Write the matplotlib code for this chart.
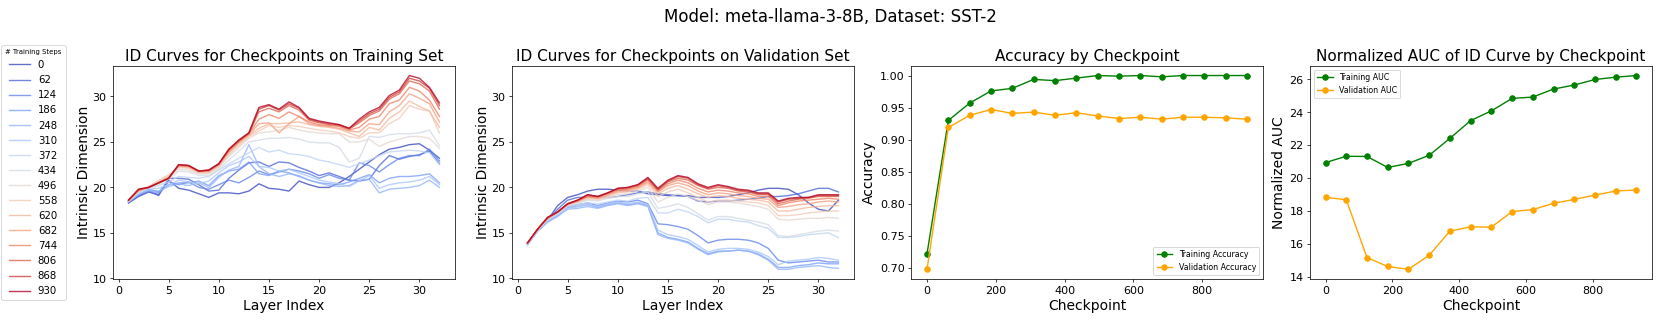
import numpy as np
import matplotlib
matplotlib.use("Agg")
import matplotlib.pyplot as plt

checkpoints = [0, 62, 124, 186, 248, 310, 372, 434, 496, 558, 620, 682, 744, 806, 868, 930]
layers = list(range(1, 33))

# ID curves on the training set, one list per checkpoint
train_id = [
    [18.3, 19.0, 19.5, 19.2, 20.8, 19.9, 19.7, 19.3, 18.9, 19.4, 19.4, 19.3, 19.6, 20.4, 19.9, 19.8, 19.6, 20.7, 20.3, 20.0, 20.0, 20.5, 21.2, 22.0, 22.8, 23.6, 24.2, 24.4, 24.7, 24.8, 24.1, 23.2],
    [18.3, 19.1, 19.6, 19.1, 21.0, 21.0, 20.9, 20.3, 19.6, 19.7, 21.0, 21.9, 22.7, 22.8, 22.3, 22.8, 22.7, 22.2, 21.8, 21.3, 21.6, 21.2, 20.8, 20.7, 20.9, 22.4, 23.5, 23.1, 23.4, 23.6, 24.0, 22.6],
    [18.4, 19.2, 19.8, 19.5, 20.6, 20.3, 20.6, 20.0, 19.8, 20.3, 20.8, 20.5, 21.1, 21.8, 21.4, 21.7, 22.0, 21.8, 21.5, 21.0, 21.4, 21.0, 20.8, 22.7, 22.4, 21.7, 22.5, 23.2, 23.5, 23.5, 24.2, 22.9],
    [18.4, 19.3, 19.6, 19.4, 20.3, 20.5, 20.5, 20.7, 20.2, 21.3, 21.8, 22.0, 22.8, 21.5, 21.3, 21.8, 21.6, 21.2, 20.8, 20.5, 20.4, 20.3, 20.6, 21.0, 21.4, 20.5, 21.0, 21.2, 21.2, 21.3, 21.5, 20.5],
    [18.4, 19.2, 19.7, 19.6, 20.1, 20.4, 20.2, 20.5, 20.0, 21.1, 21.9, 22.3, 24.7, 22.3, 21.5, 21.2, 21.5, 21.3, 20.8, 20.5, 20.2, 20.1, 20.2, 20.8, 20.9, 19.4, 19.8, 19.9, 20.0, 20.2, 20.8, 20.0],
    [18.5, 19.3, 19.8, 19.9, 20.3, 20.8, 20.6, 20.4, 20.7, 21.6, 22.4, 22.8, 23.4, 22.3, 22.2, 21.8, 22.0, 21.6, 21.2, 20.8, 20.6, 20.4, 20.1, 20.7, 21.3, 19.9, 20.3, 20.5, 20.6, 20.8, 21.2, 20.3],
    [18.5, 19.4, 19.9, 20.2, 20.6, 21.2, 21.1, 21.0, 21.2, 21.9, 22.6, 23.2, 23.8, 24.4, 23.9, 24.1, 23.7, 23.6, 23.4, 23.0, 22.8, 22.5, 22.2, 22.6, 23.0, 23.5, 23.9, 24.0, 24.1, 24.0, 23.8, 22.5],
    [18.5, 19.5, 20.0, 20.3, 20.9, 21.8, 21.7, 21.3, 21.3, 22.0, 23.0, 24.0, 25.0, 25.2, 25.4, 25.4, 25.5, 25.3, 25.0, 24.9, 24.9, 24.4, 22.8, 23.2, 25.6, 25.5, 25.8, 25.9, 25.9, 26.0, 26.3, 24.6],
    [18.5, 19.6, 20.1, 20.6, 21.2, 22.0, 21.9, 21.5, 21.5, 22.2, 23.4, 24.4, 25.4, 26.0, 26.1, 26.3, 26.6, 26.3, 26.1, 26.0, 25.9, 25.9, 25.0, 25.0, 25.3, 24.5, 25.0, 25.3, 25.6, 25.6, 25.4, 24.3],
    [18.5, 19.6, 20.1, 20.8, 21.4, 22.2, 22.1, 21.6, 21.6, 22.3, 23.6, 24.6, 25.6, 26.2, 26.8, 26.6, 26.8, 26.7, 26.5, 26.3, 26.2, 26.0, 25.6, 25.4, 26.0, 26.0, 27.0, 27.6, 29.0, 28.6, 28.4, 26.0],
    [18.5, 19.6, 20.0, 20.6, 21.2, 22.3, 22.2, 21.7, 21.7, 22.4, 23.8, 24.8, 25.7, 26.5, 27.0, 27.0, 27.1, 27.2, 26.9, 26.7, 26.6, 26.4, 26.0, 25.6, 26.6, 26.3, 27.6, 28.3, 29.5, 28.9, 28.4, 26.6],
    [18.6, 19.7, 20.0, 20.5, 21.1, 22.4, 22.3, 21.7, 21.8, 22.5, 23.9, 25.0, 25.8, 27.0, 27.1, 26.0, 27.0, 27.8, 27.0, 26.8, 26.7, 26.5, 26.2, 26.1, 27.0, 26.9, 28.3, 29.0, 30.3, 29.8, 29.2, 27.2],
    [18.6, 19.7, 20.0, 20.5, 21.0, 22.4, 22.3, 21.8, 21.8, 22.5, 24.0, 25.0, 25.9, 27.5, 28.0, 27.6, 28.3, 27.8, 27.2, 26.9, 26.8, 26.7, 26.3, 26.6, 27.5, 27.8, 29.2, 29.6, 31.0, 30.6, 29.6, 27.8],
    [18.6, 19.7, 20.0, 20.5, 21.0, 22.5, 22.4, 21.8, 21.9, 22.6, 24.1, 25.1, 25.9, 28.3, 28.7, 28.3, 29.0, 28.5, 27.4, 27.1, 26.9, 26.8, 26.4, 27.1, 27.9, 28.4, 29.7, 30.3, 31.7, 31.4, 30.6, 28.6],
    [18.6, 19.8, 20.0, 20.5, 21.0, 22.5, 22.4, 21.8, 21.9, 22.6, 24.2, 25.2, 26.0, 28.6, 29.0, 28.5, 29.2, 28.7, 27.5, 27.2, 27.0, 26.9, 26.5, 27.3, 28.1, 28.6, 29.9, 30.5, 32.0, 31.7, 30.9, 29.0],
    [18.6, 19.8, 20.0, 20.5, 21.0, 22.5, 22.4, 21.8, 21.9, 22.6, 24.2, 25.2, 26.0, 28.8, 29.1, 28.6, 29.4, 28.8, 27.6, 27.3, 27.1, 26.9, 26.5, 27.5, 28.3, 28.8, 30.1, 30.7, 32.3, 32.0, 31.0, 29.3],
]

# ID curves on the validation set
val_id = [
    [13.8, 15.3, 16.4, 18.0, 18.9, 19.2, 19.6, 19.8, 19.8, 19.7, 19.6, 19.6, 19.3, 19.2, 19.1, 19.1, 19.1, 18.9, 18.9, 18.9, 19.0, 19.2, 19.4, 19.7, 19.9, 19.9, 19.8, 19.2, 18.3, 17.6, 17.4, 18.6],
    [13.8, 15.3, 16.4, 17.6, 18.6, 18.9, 18.9, 19.0, 18.9, 19.0, 19.2, 19.4, 19.5, 19.3, 19.2, 19.1, 19.0, 18.5, 18.4, 18.5, 18.5, 18.6, 18.7, 18.8, 19.0, 19.0, 19.1, 19.3, 19.6, 19.9, 19.9, 19.5],
    [13.8, 15.2, 16.3, 17.2, 17.9, 18.1, 18.3, 18.0, 18.3, 18.5, 18.4, 18.6, 18.2, 16.0, 15.9, 15.7, 15.4, 14.7, 13.9, 14.2, 14.3, 14.3, 14.2, 13.9, 13.3, 12.0, 11.7, 11.8, 11.9, 12.0, 11.8, 11.8],
    [13.7, 15.2, 16.2, 16.9, 17.8, 17.9, 18.1, 17.8, 18.1, 18.3, 18.1, 18.3, 18.0, 15.0, 14.5, 14.3, 14.0, 13.3, 12.7, 13.0, 13.0, 13.1, 13.0, 12.7, 12.1, 11.2, 11.2, 11.4, 11.5, 11.7, 11.6, 11.6],
    [13.7, 15.2, 16.2, 16.8, 17.6, 17.7, 17.9, 17.7, 18.0, 18.2, 18.0, 18.2, 17.9, 14.8, 14.4, 14.2, 13.9, 13.2, 12.6, 12.9, 13.0, 13.1, 13.0, 12.6, 12.0, 11.0, 11.0, 11.2, 11.3, 11.4, 11.2, 11.1],
    [13.7, 15.2, 16.3, 17.0, 17.7, 17.9, 18.1, 17.9, 18.2, 18.4, 18.2, 18.4, 18.1, 15.3, 14.8, 14.6, 14.3, 13.6, 12.9, 13.2, 13.3, 13.3, 13.2, 12.9, 12.4, 11.5, 11.9, 12.0, 12.1, 12.3, 12.2, 12.0],
    [13.8, 15.3, 16.4, 17.1, 17.9, 18.1, 18.3, 18.2, 18.4, 18.6, 18.5, 18.8, 18.9, 17.2, 17.2, 17.6, 17.3, 16.8, 16.1, 16.5, 16.5, 16.3, 16.2, 15.8, 15.5, 14.5, 14.5, 14.6, 14.8, 14.9, 15.0, 14.5],
    [13.8, 15.3, 16.5, 17.2, 18.0, 18.3, 18.6, 18.5, 18.8, 19.0, 19.0, 19.3, 19.5, 17.7, 17.9, 18.2, 17.8, 17.1, 16.4, 16.8, 16.8, 16.6, 16.4, 16.2, 15.9, 14.7, 14.6, 14.8, 15.0, 15.2, 15.3, 15.2],
    [13.9, 15.3, 16.5, 17.2, 18.0, 18.3, 18.7, 18.6, 18.9, 19.2, 19.3, 19.6, 20.0, 18.4, 18.9, 19.3, 19.0, 18.6, 18.1, 18.4, 18.4, 18.3, 18.1, 17.9, 17.6, 16.5, 16.4, 16.5, 16.6, 16.6, 16.7, 16.6],
    [13.9, 15.4, 16.6, 17.3, 18.1, 18.4, 18.8, 18.7, 19.0, 19.4, 19.5, 19.8, 20.3, 19.0, 19.5, 19.8, 19.4, 18.9, 18.4, 18.6, 18.6, 18.5, 18.4, 18.3, 18.0, 16.9, 16.9, 17.0, 17.2, 17.3, 17.4, 17.4],
    [13.9, 15.4, 16.6, 17.3, 18.1, 18.5, 18.9, 18.8, 19.1, 19.5, 19.6, 19.9, 20.5, 19.3, 19.9, 20.2, 19.8, 19.3, 18.9, 19.1, 19.0, 18.8, 18.7, 18.6, 18.4, 17.4, 17.4, 17.6, 17.8, 17.9, 18.0, 18.0],
    [13.9, 15.4, 16.6, 17.3, 18.1, 18.5, 19.0, 18.8, 19.2, 19.6, 19.7, 20.0, 20.6, 19.5, 20.2, 20.5, 20.2, 19.6, 19.2, 19.4, 19.3, 19.1, 19.0, 18.8, 18.7, 17.8, 17.9, 18.1, 18.2, 18.4, 18.5, 18.4],
    [13.9, 15.4, 16.6, 17.3, 18.2, 18.5, 19.0, 18.9, 19.3, 19.7, 19.8, 20.1, 20.8, 19.6, 20.4, 20.8, 20.5, 19.9, 19.5, 19.7, 19.6, 19.4, 19.3, 19.0, 19.0, 18.0, 18.3, 18.5, 18.6, 18.7, 18.8, 18.7],
    [13.9, 15.4, 16.7, 17.3, 18.2, 18.6, 19.1, 19.0, 19.4, 19.8, 19.9, 20.2, 20.9, 19.7, 20.6, 21.0, 20.8, 20.2, 19.8, 20.0, 19.9, 19.6, 19.5, 19.2, 19.2, 18.2, 18.5, 18.7, 18.8, 19.0, 19.0, 19.0],
    [13.9, 15.4, 16.7, 17.3, 18.2, 18.6, 19.2, 19.0, 19.4, 19.9, 20.0, 20.3, 21.0, 19.8, 20.7, 21.2, 21.0, 20.3, 19.9, 20.2, 20.0, 19.7, 19.6, 19.3, 19.3, 18.4, 18.7, 18.8, 18.9, 19.1, 19.1, 19.1],
    [13.9, 15.4, 16.7, 17.3, 18.2, 18.6, 19.2, 19.0, 19.4, 19.9, 20.0, 20.3, 21.1, 19.9, 20.8, 21.3, 21.1, 20.4, 20.0, 20.3, 20.1, 19.8, 19.7, 19.4, 19.4, 18.5, 18.8, 18.9, 18.9, 19.2, 19.2, 19.2],
]

train_acc = [0.722, 0.930, 0.957, 0.976, 0.980, 0.994, 0.992, 0.996, 1.000, 0.999, 1.000, 0.998, 1.000, 1.000, 1.000, 1.000]
val_acc = [0.698, 0.919, 0.938, 0.947, 0.941, 0.943, 0.938, 0.942, 0.937, 0.933, 0.935, 0.932, 0.935, 0.935, 0.934, 0.932]

train_auc = [20.95, 21.33, 21.32, 20.65, 20.90, 21.39, 22.42, 23.50, 24.09, 24.85, 24.93, 25.42, 25.66, 26.00, 26.14, 26.24]
val_auc = [18.83, 18.69, 15.17, 14.63, 14.46, 15.31, 16.78, 17.04, 17.02, 17.97, 18.09, 18.47, 18.71, 18.97, 19.22, 19.28]

W, H = 1661, 332
fig = plt.figure(figsize=(25, 5), dpi=W / 25)


def box(x0, x1, top, bottom):
    return [x0 / W, 1 - bottom / H, (x1 - x0) / W, (bottom - top) / H]


ax1 = fig.add_axes(box(113, 455, 66, 279))
ax2 = fig.add_axes(box(512, 854, 66, 279), sharey=ax1)
ax3 = fig.add_axes(box(911, 1263, 66, 279))
ax4 = fig.add_axes(box(1310, 1652, 66, 279))

cmap = plt.get_cmap("coolwarm")
colors = cmap(np.linspace(0, 1, len(checkpoints)))

for i, step in enumerate(checkpoints):
    ax1.plot(layers, train_id[i], color=colors[i], alpha=0.8, lw=1.5, label=str(step))
    ax2.plot(layers, val_id[i], color=colors[i], alpha=0.8, lw=1.5)

for ax, title in [(ax1, "ID Curves for Checkpoints on Training Set"),
                  (ax2, "ID Curves for Checkpoints on Validation Set")]:
    ax.set_title(title, fontsize=16.5)
    ax.set_xlabel("Layer Index", fontsize=15)
    ax.set_ylabel("Intrinsic Dimension", fontsize=15, labelpad=2)

ax3.plot(checkpoints, train_acc, "o-", color="green", label="Training Accuracy")
ax3.plot(checkpoints, val_acc, "o-", color="orange", label="Validation Accuracy")
ax3.set_title("Accuracy by Checkpoint", fontsize=16.5)
ax3.set_xlabel("Checkpoint", fontsize=15)
ax3.set_ylabel("Accuracy", fontsize=15)
ax3.legend(loc="lower right", fontsize=8.5)

ax4.plot(checkpoints, train_auc, "o-", color="green", label="Training AUC")
ax4.plot(checkpoints, val_auc, "o-", color="orange", label="Validation AUC")
ax4.set_title("Normalized AUC of ID Curve by Checkpoint", fontsize=16.5)
ax4.set_xlabel("Checkpoint", fontsize=15)
ax4.set_ylabel("Normalized AUC", fontsize=15)
ax4.legend(loc="upper left", fontsize=8.5)

for ax in (ax1, ax2, ax3, ax4):
    ax.tick_params(labelsize=12)

handles, labels = ax1.get_legend_handles_labels()
fig.legend(handles, labels, title="# Training Steps", loc="center left",
           bbox_to_anchor=(0.0, 0.48), fontsize=11, title_fontsize=7.5,
           borderaxespad=0.1, borderpad=0.4)

fig.suptitle("Model: meta-llama-3-8B, Dataset: SST-2", fontsize=18, y=0.975)

fig.savefig("out.png", dpi=W / 25)
